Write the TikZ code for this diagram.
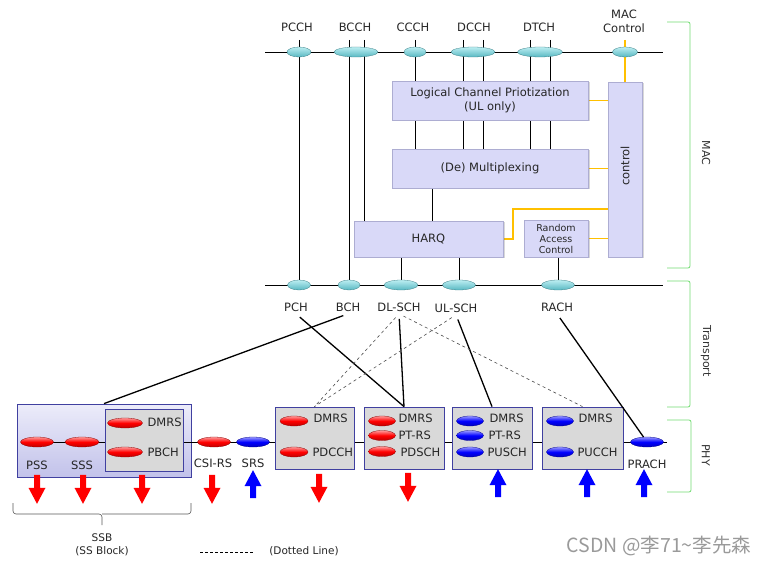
\documentclass[tikz,border=0pt]{standalone}
\usepackage{fontspec}
\setmainfont{DejaVu Sans}
\newfontfamily\cjkfont{Noto Sans CJK SC}
\usetikzlibrary{shapes.geometric,shapes.arrows,shadows,backgrounds}
\usepackage{xcolor}
\definecolor{chanhi}{HTML}{BCEEF2}
\definecolor{chanlo}{HTML}{58B8C2}
\definecolor{macfill}{HTML}{D9D9F8}
\definecolor{macedge}{HTML}{ADADD2}
\definecolor{phyfill}{HTML}{D9D9D9}
\definecolor{phyedge}{HTML}{4040A0}
\definecolor{ssbtop}{HTML}{ECECFA}
\definecolor{ssbbot}{HTML}{C2C2EA}
\definecolor{ctrlline}{HTML}{FFC000}
\definecolor{layerline}{HTML}{72DC72}
\definecolor{dlred}{HTML}{FF0000}
\definecolor{ulblue}{HTML}{0000FF}
\definecolor{wmark}{HTML}{9A9A9A}

\tikzset{
  lab/.style={font=\fontsize{11.5}{14}\selectfont, inner sep=2pt, text=black!85},
  small/.style={font=\fontsize{10.5}{13}\selectfont, inner sep=1pt, text=black!85},
  chan/.style={ellipse, minimum width=#1, minimum height=10pt, inner sep=0pt,
    top color=chanhi, bottom color=chanlo, draw=chanlo!70!black, line width=0.3pt},
  dlsig/.style={ellipse, minimum width=#1, minimum height=10pt, inner sep=0pt,
    top color=red!40!white, bottom color=red!75!black, middle color=dlred,
    draw=red!55!black, line width=0.3pt},
  ulsig/.style={ellipse, minimum width=#1, minimum height=10pt, inner sep=0pt,
    top color=blue!40!white, bottom color=blue!75!black, middle color=ulblue,
    draw=blue!55!black, line width=0.3pt},
  macblk/.style={draw=macedge, fill=macfill, inner sep=0pt, line width=0.8pt,
    drop shadow={shadow xshift=1.5pt, shadow yshift=-1.5pt, opacity=0.3}},
  ssbblk/.style={draw=phyedge, top color=ssbtop, bottom color=ssbbot, inner sep=0pt, line width=0.8pt},
  phyblk/.style={draw=phyedge, fill=phyfill, inner sep=0pt, line width=0.8pt},
  dnarrow/.style={single arrow, fill=dlred, draw=none, inner sep=2.5pt,
    minimum height=29pt, single arrow head extend=5.5pt, single arrow tip angle=56,
    shape border rotate=270},
  uparrow/.style={single arrow, fill=ulblue, draw=none, inner sep=2.5pt,
    minimum height=28pt, single arrow head extend=5.5pt, single arrow tip angle=56,
    shape border rotate=90},
  feed/.style={line width=1.3pt, shorten <=5pt},
  optional/.style={dashed, line width=0.6pt, black!70, shorten <=5pt},
  ctrlwire/.style={ctrlline, line width=1.3pt},
  layerbr/.style={layerline, line width=0.8pt, rounded corners=2pt},
  layerlab/.style={font=\fontsize{11}{13}\selectfont, text=black!80, rotate=-90},
}

\begin{document}
\begin{tikzpicture}[x=1pt,y=-1pt,line width=1pt]
  \useasboundingbox (0,0) rectangle (769,564);
  \begin{scope}[on background layer]
    \fill[white] (0,0) rectangle (769,564);
  \end{scope}

  % logical channels
  \coordinate (loglft) at (265,52);
  \coordinate (logrgt) at (663,52);
  \node[chan=24pt] (pcch) at (299,52) {};
  \node[chan=44pt] (bcch) at (356,52) {};
  \node[chan=22pt] (ccch) at (415,52) {};
  \node[chan=44pt] (dcch) at (473,52) {};
  \node[chan=45pt] (dtch) at (540,52) {};
  \node[chan=25pt] (macc) at (625,52) {};
  \node[lab] (pcchlab) at (297,27) {PCCH};
  \node[lab] (bcchlab) at (355,27) {BCCH};
  \node[lab] (ccchlab) at (413,27) {CCCH};
  \node[lab] (dcchlab) at (474,27) {DCCH};
  \node[lab] (dtchlab) at (539,27) {DTCH};
  \node[lab, align=center] (macclab) at (624,21) {MAC\\Control};

  % MAC blocks
  \node[macblk, minimum width=196pt, minimum height=39pt, align=center, lab] (lcp) at (490,100.5)
    {Logical Channel Priotization\\(UL only)};
  \node[macblk, minimum width=196pt, minimum height=39pt, lab] (mux) at (490,168.5) {(De) Multiplexing};
  \node[macblk, minimum width=149pt, minimum height=36pt, lab] (harq) at (428.5,239) {HARQ};
  \node[macblk, minimum width=64pt, minimum height=37pt, align=center,
    font=\fontsize{9.5}{11}\selectfont, text=black!85] (rac) at (556,238.5) {Random\\Access\\Control};
  \node[macblk, minimum width=34pt, minimum height=175pt] (ctrl) at (625,169.5) {};
  \node[lab, rotate=90] (ctrllab) at (625,166) {control};

  % transport channels
  \coordinate (trlft) at (265,285);
  \coordinate (trrgt) at (663,285);
  \node[chan=23pt] (pch) at (299,285) {};
  \node[chan=22pt] (bch) at (349,285) {};
  \node[chan=34pt] (dlsch) at (401,285) {};
  \node[chan=33pt] (ulsch) at (459,285) {};
  \node[chan=33pt] (rach) at (558,285) {};
  \node[lab] (pchlab) at (296,307) {PCH};
  \node[lab] (bchlab) at (348,307) {BCH};
  \node[lab] (dlschlab) at (399,307) {DL-SCH};
  \node[lab] (ulschlab) at (456,308) {UL-SCH};
  \node[lab] (rachlab) at (557,307) {RACH};

  \begin{scope}[on background layer]
    \draw (loglft) -- (logrgt);
    \draw (trlft) -- (trrgt);
    \draw ([yshift=12pt]pcch.center) -- (pch.center);
    \draw ([shift={(-7,-12)}]bcch.center) -- (bch.center);
    \coordinate (bcchr) at (364,40);
    \draw (bcchr) -- (bcchr |- harq.north);
    \foreach \cx in {415,463,483,530,550} {
      \coordinate (col) at (\cx,40);
      \draw (col) -- (col |- lcp.north) (col |- lcp.south) -- (col |- mux.north);
    }
    \coordinate (muxout) at (432,190);
    \draw (muxout |- mux.south) -- (muxout |- harq.north);
    \draw (dlsch |- harq.south) -- (dlsch.center);
    \draw (ulsch |- harq.south) -- (ulsch.center);
    \draw (rach |- rac.south) -- (rach.center);
    % control wiring
    \draw[ctrlwire] ([yshift=12pt]macc.center) -- (macc |- ctrl.north);
    \draw[ctrlwire] (lcp.east) -- (ctrl.west |- lcp.east);
    \draw[ctrlwire] (mux.east) -- (ctrl.west |- mux.east);
    \draw[ctrlwire] (rac.east) -- (ctrl.west |- rac.east);
    \coordinate (harqctl) at (513,209);
    \draw[ctrlwire] (harq.east) -| (harqctl) -- (harqctl -| ctrl.west);
  \end{scope}

  % PHY
  \node[ssbblk, minimum width=174pt, minimum height=73pt] (ssb) at (104,440.5) {};
  \coordinate (phystart) at (37,442);
  \coordinate (phyend) at (667,442);
  \draw (phystart) -- (phyend);
  \node[phyblk, minimum width=78pt, minimum height=62pt] (pbchbox) at (144,440) {};
  \node[phyblk, minimum width=79pt, minimum height=62pt] (pdcch) at (314.5,438) {};
  \node[phyblk, minimum width=80pt, minimum height=62pt] (pdsch) at (404,438) {};
  \node[phyblk, minimum width=80pt, minimum height=62pt] (pusch) at (492,438) {};
  \node[phyblk, minimum width=81pt, minimum height=62pt] (pucch) at (582.5,438) {};

  \node[dlsig=33pt] (pss) at (37,442) {};
  \node[dlsig=34pt] (sss) at (82,442) {};
  \node[dlsig=35pt] (pbchdm) at (125,423) {};
  \node[dlsig=35pt] (pbch) at (125,452) {};
  \node[dlsig=33pt] (csirs) at (214,442) {};
  \node[ulsig=33pt] (srs) at (253,442) {};
  \node[dlsig=28pt] (pdcchdm) at (294,421) {};
  \node[dlsig=28pt] (pdcchsig) at (294,452) {};
  \node[dlsig=27pt] (pdschdm) at (382,421) {};
  \node[dlsig=27pt] (pdschpt) at (382,435.5) {};
  \node[dlsig=27pt] (pdschsig) at (382,451.5) {};
  \node[ulsig=27pt] (puschdm) at (470,421) {};
  \node[ulsig=27pt] (puschpt) at (470,435.5) {};
  \node[ulsig=27pt] (puschsig) at (470,452) {};
  \node[ulsig=27pt] (pucchdm) at (560,421) {};
  \node[ulsig=27pt] (pucchsig) at (560,452) {};
  \node[ulsig=33pt] (prach) at (647,442) {};

  \node[lab, anchor=west] (pbchdmlab) at (145,422) {DMRS};
  \node[lab, anchor=west] (pbchlab) at (145,452) {PBCH};
  \node[lab, anchor=west] (pdcchdmlab) at (311,418) {DMRS};
  \node[lab, anchor=west] (pdcchlab) at (310,452) {PDCCH};
  \node[lab, anchor=west] (pdschdmlab) at (396,418) {DMRS};
  \node[lab, anchor=west] (pdschptlab) at (396,435) {PT-RS};
  \node[lab, anchor=west] (pdschlab) at (398,452) {PDSCH};
  \node[lab, anchor=west] (puschdmlab) at (487,418) {DMRS};
  \node[lab, anchor=west] (puschptlab) at (486,435) {PT-RS};
  \node[lab, anchor=west] (puschlab) at (485,452) {PUSCH};
  \node[lab, anchor=west] (pucchdmlab) at (576,418) {DMRS};
  \node[lab, anchor=west] (pucchlab) at (575,452) {PUCCH};
  \node[lab] (psslab) at (37,465) {PSS};
  \node[lab] (ssslab) at (82,465) {SSS};
  \node[lab] (csirslab) at (213,463) {CSI-RS};
  \node[lab] (srslab) at (253,463) {SRS};
  \node[lab] (prachlab) at (647,464) {PRACH};

  % transport -> PHY mapping
  \draw[feed] (pchlab.south) -- (pdsch.north);
  \draw[feed] (bchlab.south) -- (ssb.north);
  \draw[feed] (dlschlab.south) -- (pdsch.north);
  \draw[feed] (ulschlab.south) -- (pusch.north);
  \draw[feed] (rachlab.south) -- (prach);
  \draw[optional] (dlschlab.south) -- (pdcch.north);
  \draw[optional] (ulschlab.south) -- (pdcch.north);
  \draw[optional] (dlschlab.south) -- (pucch.north);

  % direction arrows
  \node[dnarrow] (pssarr) at (37,486.5) {};
  \node[dnarrow] (sssarr) at (83,486.5) {};
  \node[dnarrow] (pbcharr) at (142,486.5) {};
  \node[dnarrow] (csirsarr) at (212,486.5) {};
  \node[dnarrow] (pdccharr) at (319,485.5) {};
  \node[dnarrow] (pdscharr) at (408,484.5) {};
  \node[uparrow] (srsarr) at (253,487) {};
  \node[uparrow] (puscharr) at (498,486) {};
  \node[uparrow] (puccharr) at (587,486) {};
  \node[uparrow] (pracharr) at (644,486) {};

  % SSB brace and legend
  \draw[black!65, line width=0.6pt, rounded corners=3pt] (13,503) |- (102,514) -- (102,525);
  \draw[black!65, line width=0.6pt, rounded corners=3pt] (191,503) |- (102,514);
  \node[small, align=center] (ssblab) at (102,545) {SSB\\(SS Block)};
  \coordinate (dotl) at (200,552);
  \coordinate (dotr) at (253,552);
  \draw[dashed, line width=0.6pt, dash pattern=on 3pt off 2pt] (dotl) -- (dotr);
  \node[small] (dotlab) at (304,551) {(Dotted Line)};

  % layer brackets
  \draw[layerbr] (667,22) -- (690,22) -- (690,268) -- (667,268);
  \draw[layerbr] (667,281) -- (690,281) -- (690,407) -- (667,407);
  \draw[layerbr] (667,420) -- (691,420) -- (691,492) -- (667,492);
  \node[layerlab] (maclayer) at (706,153) {MAC};
  \node[layerlab] (trlayer) at (706,351) {Transport};
  \node[layerlab] (phylayer) at (706,455) {PHY};

  \node[font=\cjkfont\fontsize{19.5}{22}\selectfont, text=wmark, inner sep=0pt] (wm) at (659,546)
    {CSDN @李71\textasciitilde 李先森};
\end{tikzpicture}
\end{document}
